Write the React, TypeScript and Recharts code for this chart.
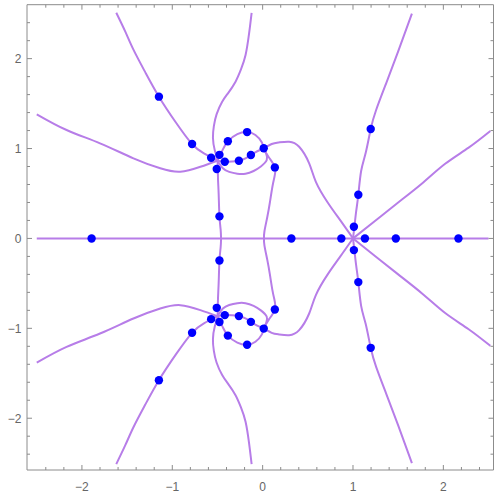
import { ScatterChart, Scatter, XAxis, YAxis } from "recharts";

type Pt = { x: number; y: number };

// frame ticks (0.2 steps, integers get a label)
const xTicks = [-2.4, -2.2, -2, -1.8, -1.6, -1.4, -1.2, -1, -0.8, -0.6, -0.4, -0.2, 0, 0.2, 0.4, 0.6, 0.8, 1, 1.2, 1.4, 1.6, 1.8, 2, 2.2, 2.4];
const yTicks = [-2.4, -2.2, -2, -1.8, -1.6, -1.4, -1.2, -1, -0.8, -0.6, -0.4, -0.2, 0, 0.2, 0.4, 0.6, 0.8, 1, 1.2, 1.4, 1.6, 1.8, 2, 2.2, 2.4];

// locus branches, upper half
const realAxis: Pt[] = [{ x: -2.5, y: 0 }, { x: 2.5, y: 0 }];

const leftSteepUp: Pt[] = [
  { x: -1.62, y: 2.51 }, { x: -1.52, y: 2.3 }, { x: -1.43, y: 2.1 }, { x: -1.3, y: 1.85 },
  { x: -1.148, y: 1.577 }, { x: -0.96, y: 1.29 }, { x: -0.781, y: 1.05 }, { x: -0.65, y: 0.945 },
  { x: -0.5, y: 0.865 },
];
const verticalUp: Pt[] = [
  { x: -0.122, y: 2.51 }, { x: -0.15, y: 2.28 }, { x: -0.189, y: 2.04 }, { x: -0.24, y: 1.88 },
  { x: -0.3, y: 1.744 }, { x: -0.38, y: 1.62 }, { x: -0.448, y: 1.52 }, { x: -0.51, y: 1.38 },
  { x: -0.54, y: 1.25 }, { x: -0.55, y: 1.12 }, { x: -0.53, y: 0.98 }, { x: -0.5, y: 0.865 },
  { x: -0.495, y: 0.7 }, { x: -0.487, y: 0.5 }, { x: -0.478, y: 0.245 }, { x: -0.465, y: 0.1 },
  { x: -0.46, y: 0 },
];
const leftFlatUp: Pt[] = [
  { x: -2.5, y: 1.381 }, { x: -2.17, y: 1.206 }, { x: -1.8, y: 1.058 }, { x: -1.43, y: 0.891 },
  { x: -1.133, y: 0.78 }, { x: -0.911, y: 0.742 }, { x: -0.689, y: 0.797 }, { x: -0.5, y: 0.865 },
];
const outerLoopUp: Pt[] = [
  { x: -0.5, y: 0.865 }, { x: -0.44, y: 0.99 }, { x: -0.385, y: 1.081 }, { x: -0.28, y: 1.16 },
  { x: -0.172, y: 1.183 }, { x: -0.08, y: 1.15 }, { x: -0.01, y: 1.07 }, { x: 0.012, y: 1.003 },
  { x: 0.07, y: 0.9 }, { x: 0.135, y: 0.79 }, { x: 0.13, y: 0.68 }, { x: 0.108, y: 0.575 },
  { x: 0.08, y: 0.4 }, { x: 0.052, y: 0.241 }, { x: 0.02, y: 0.08 }, { x: 0.015, y: 0 },
];
const innerHumpUp: Pt[] = [
  { x: -0.5, y: 0.865 }, { x: -0.419, y: 0.853 }, { x: -0.34, y: 0.855 }, { x: -0.263, y: 0.864 },
  { x: -0.19, y: 0.89 }, { x: -0.13, y: 0.928 }, { x: -0.06, y: 0.97 }, { x: 0.012, y: 1.003 },
  { x: 0.1, y: 1.05 }, { x: 0.18, y: 1.068 }, { x: 0.293, y: 1.076 }, { x: 0.404, y: 1.02 },
  { x: 0.515, y: 0.835 }, { x: 0.589, y: 0.63 }, { x: 0.72, y: 0.4 }, { x: 0.86, y: 0.2 },
  { x: 1.0, y: 0 },
];
const lowerLoopUp: Pt[] = [
  { x: -0.5, y: 0.865 }, { x: -0.44, y: 0.78 }, { x: -0.37, y: 0.74 }, { x: -0.28, y: 0.72 },
  { x: -0.19, y: 0.72 }, { x: -0.1, y: 0.75 }, { x: -0.02, y: 0.8 }, { x: 0.045, y: 0.87 },
  { x: 0.04, y: 0.94 }, { x: 0.012, y: 1.003 },
];
const rightSteepUp: Pt[] = [
  { x: 1.0, y: 0 }, { x: 1.015, y: 0.125 }, { x: 1.035, y: 0.3 }, { x: 1.059, y: 0.486 },
  { x: 1.09, y: 0.75 }, { x: 1.14, y: 0.95 }, { x: 1.196, y: 1.217 }, { x: 1.256, y: 1.429 },
  { x: 1.367, y: 1.726 }, { x: 1.5, y: 2.08 }, { x: 1.652, y: 2.5 },
];
const diagonalUp: Pt[] = [
  { x: 1.0, y: 0 }, { x: 1.25, y: 0.2 }, { x: 1.5, y: 0.4 }, { x: 1.774, y: 0.62 },
  { x: 2.02, y: 0.83 }, { x: 2.28, y: 1.01 }, { x: 2.52, y: 1.195 },
];

// locus branches, lower half
const leftSteepDown: Pt[] = [
  { x: -1.62, y: -2.51 }, { x: -1.52, y: -2.3 }, { x: -1.43, y: -2.1 }, { x: -1.3, y: -1.85 },
  { x: -1.148, y: -1.577 }, { x: -0.96, y: -1.29 }, { x: -0.781, y: -1.05 }, { x: -0.65, y: -0.945 },
  { x: -0.5, y: -0.865 },
];
const verticalDown: Pt[] = [
  { x: -0.122, y: -2.51 }, { x: -0.15, y: -2.28 }, { x: -0.189, y: -2.04 }, { x: -0.24, y: -1.88 },
  { x: -0.3, y: -1.744 }, { x: -0.38, y: -1.62 }, { x: -0.448, y: -1.52 }, { x: -0.51, y: -1.38 },
  { x: -0.54, y: -1.25 }, { x: -0.55, y: -1.12 }, { x: -0.53, y: -0.98 }, { x: -0.5, y: -0.865 },
  { x: -0.495, y: -0.7 }, { x: -0.487, y: -0.5 }, { x: -0.478, y: -0.245 }, { x: -0.465, y: -0.1 },
  { x: -0.46, y: 0 },
];
const leftFlatDown: Pt[] = [
  { x: -2.5, y: -1.381 }, { x: -2.17, y: -1.206 }, { x: -1.8, y: -1.058 }, { x: -1.43, y: -0.891 },
  { x: -1.133, y: -0.78 }, { x: -0.911, y: -0.742 }, { x: -0.689, y: -0.797 }, { x: -0.5, y: -0.865 },
];
const outerLoopDown: Pt[] = [
  { x: -0.5, y: -0.865 }, { x: -0.44, y: -0.99 }, { x: -0.385, y: -1.081 }, { x: -0.28, y: -1.16 },
  { x: -0.172, y: -1.183 }, { x: -0.08, y: -1.15 }, { x: -0.01, y: -1.07 }, { x: 0.012, y: -1.003 },
  { x: 0.07, y: -0.9 }, { x: 0.135, y: -0.79 }, { x: 0.13, y: -0.68 }, { x: 0.108, y: -0.575 },
  { x: 0.08, y: -0.4 }, { x: 0.052, y: -0.241 }, { x: 0.02, y: -0.08 }, { x: 0.015, y: 0 },
];
const innerHumpDown: Pt[] = [
  { x: -0.5, y: -0.865 }, { x: -0.419, y: -0.853 }, { x: -0.34, y: -0.855 }, { x: -0.263, y: -0.864 },
  { x: -0.19, y: -0.89 }, { x: -0.13, y: -0.928 }, { x: -0.06, y: -0.97 }, { x: 0.012, y: -1.003 },
  { x: 0.1, y: -1.05 }, { x: 0.18, y: -1.068 }, { x: 0.293, y: -1.076 }, { x: 0.404, y: -1.02 },
  { x: 0.515, y: -0.835 }, { x: 0.589, y: -0.63 }, { x: 0.72, y: -0.4 }, { x: 0.86, y: -0.2 },
  { x: 1.0, y: 0 },
];
const lowerLoopDown: Pt[] = [
  { x: -0.5, y: -0.865 }, { x: -0.44, y: -0.78 }, { x: -0.37, y: -0.74 }, { x: -0.28, y: -0.72 },
  { x: -0.19, y: -0.72 }, { x: -0.1, y: -0.75 }, { x: -0.02, y: -0.8 }, { x: 0.045, y: -0.87 },
  { x: 0.04, y: -0.94 }, { x: 0.012, y: -1.003 },
];
const rightSteepDown: Pt[] = [
  { x: 1.0, y: 0 }, { x: 1.015, y: -0.125 }, { x: 1.035, y: -0.3 }, { x: 1.059, y: -0.486 },
  { x: 1.09, y: -0.75 }, { x: 1.14, y: -0.95 }, { x: 1.196, y: -1.217 }, { x: 1.256, y: -1.429 },
  { x: 1.367, y: -1.726 }, { x: 1.5, y: -2.08 }, { x: 1.652, y: -2.5 },
];
const diagonalDown: Pt[] = [
  { x: 1.0, y: 0 }, { x: 1.25, y: -0.2 }, { x: 1.5, y: -0.4 }, { x: 1.774, y: -0.62 },
  { x: 2.02, y: -0.83 }, { x: 2.28, y: -1.01 }, { x: 2.52, y: -1.195 },
];

const branches: Pt[][] = [
  realAxis,
  leftSteepUp, verticalUp, leftFlatUp, outerLoopUp, innerHumpUp, lowerLoopUp, rightSteepUp, diagonalUp,
  leftSteepDown, verticalDown, leftFlatDown, outerLoopDown, innerHumpDown, lowerLoopDown, rightSteepDown, diagonalDown,
];

// blue markers
const rootPoints: Pt[] = [
  { x: -1.893, y: 0 }, { x: 0.318, y: 0 }, { x: 0.871, y: 0 }, { x: 1.132, y: 0 }, { x: 1.474, y: 0 }, { x: 2.167, y: 0 },
  { x: -1.148, y: 1.577 }, { x: -0.781, y: 1.05 }, { x: -0.57, y: 0.898 }, { x: -0.478, y: 0.93 },
  { x: -0.508, y: 0.772 }, { x: -0.419, y: 0.853 }, { x: -0.385, y: 1.081 }, { x: -0.263, y: 0.864 },
  { x: -0.172, y: 1.183 }, { x: -0.13, y: 0.928 }, { x: 0.012, y: 1.003 }, { x: 0.135, y: 0.79 },
  { x: -0.478, y: 0.245 }, { x: 1.01, y: 0.13 }, { x: 1.059, y: 0.486 }, { x: 1.196, y: 1.217 },
  { x: -1.148, y: -1.577 }, { x: -0.781, y: -1.05 }, { x: -0.57, y: -0.898 }, { x: -0.478, y: -0.93 },
  { x: -0.508, y: -0.772 }, { x: -0.419, y: -0.853 }, { x: -0.385, y: -1.081 }, { x: -0.263, y: -0.864 },
  { x: -0.172, y: -1.183 }, { x: -0.13, y: -0.928 }, { x: 0.012, y: -1.003 }, { x: 0.135, y: -0.79 },
  { x: -0.478, y: -0.245 }, { x: 1.01, y: -0.13 }, { x: 1.059, y: -0.486 }, { x: 1.196, y: -1.217 },
];

const FRAME = "#8c8c8c";
const CURVE = "#b77de8";

function fmt(v: number) {
  return v < 0 ? `\u2212${Math.abs(v)}` : `${v}`;
}

function FrameTick(props: any) {
  const { x, y, payload, side } = props;
  const v = payload.value as number;
  const major = Math.abs(v - Math.round(v)) < 1e-6;
  const len = major ? 5 : 3;
  let line;
  if (side === "bottom") line = <line x1={x} x2={x} y1={y} y2={y - len} stroke={FRAME} />;
  else if (side === "top") line = <line x1={x} x2={x} y1={y} y2={y + len} stroke={FRAME} />;
  else if (side === "left") line = <line x1={x} x2={x + len} y1={y} y2={y} stroke={FRAME} />;
  else line = <line x1={x} x2={x - len} y1={y} y2={y} stroke={FRAME} />;
  let label = null;
  if (major && side === "bottom") {
    label = (
      <text x={x} y={y + 20.5} textAnchor="middle" fontSize={12} fill="#666" fontFamily="Liberation Sans, Arial, sans-serif">
        {fmt(Math.round(v))}
      </text>
    );
  } else if (major && side === "left") {
    label = (
      <text x={x - 5.5} y={y + 4.3} textAnchor="end" fontSize={12} fill="#666" fontFamily="Liberation Sans, Arial, sans-serif">
        {fmt(Math.round(v))}
      </text>
    );
  }
  return (
    <g>
      {line}
      {label}
    </g>
  );
}

export default function App() {
  return (
    <div style={{ position: "absolute", left: 0, top: 0, width: 495, height: 498, background: "#fff" }}>
      <ScatterChart width={495} height={498} margin={{ top: 3.7, right: 0.5, bottom: 0, left: 0 }}>
        <XAxis
          xAxisId={0}
          dataKey="x"
          type="number"
          domain={[-2.608, 2.555]}
          allowDataOverflow
          ticks={xTicks}
          interval={0}
          height={28}
          tickSize={0}
          tickMargin={0}
          tickLine={false}
          axisLine={{ stroke: FRAME }}
          tick={(p: any) => <FrameTick {...p} side="bottom" />}
        />
        <XAxis
          xAxisId="top"
          orientation="top"
          dataKey="x"
          type="number"
          domain={[-2.608, 2.555]}
          allowDataOverflow
          ticks={xTicks}
          interval={0}
          height={1}
          tickSize={0}
          tickMargin={0}
          tickLine={false}
          axisLine={{ stroke: FRAME }}
          tick={(p: any) => <FrameTick {...p} side="top" />}
        />
        <YAxis
          yAxisId={0}
          dataKey="y"
          type="number"
          domain={[-2.576, 2.6]}
          allowDataOverflow
          ticks={yTicks}
          interval={0}
          width={27}
          tickSize={0}
          tickMargin={0}
          tickLine={false}
          axisLine={{ stroke: FRAME }}
          tick={(p: any) => <FrameTick {...p} side="left" />}
        />
        <YAxis
          yAxisId="right"
          orientation="right"
          dataKey="y"
          type="number"
          domain={[-2.576, 2.6]}
          allowDataOverflow
          ticks={yTicks}
          interval={0}
          width={1}
          tickSize={0}
          tickMargin={0}
          tickLine={false}
          axisLine={{ stroke: FRAME }}
          tick={(p: any) => <FrameTick {...p} side="right" />}
        />
        {branches.map((b, i) => (
          <Scatter
            key={`branch-${i}`}
            data={b}
            xAxisId={0}
            yAxisId={0}
            line={{ stroke: CURVE, strokeWidth: 2, fill: "none" }}
            lineJointType="natural"
            shape={() => <g />}
            isAnimationActive={false}
          />
        ))}
        <Scatter
          data={rootPoints}
          xAxisId={0}
          yAxisId={0}
          shape={(p: any) => <circle cx={p.cx} cy={p.cy} r={4.2} fill="#0000ff" />}
          isAnimationActive={false}
        />
      </ScatterChart>
    </div>
  );
}
